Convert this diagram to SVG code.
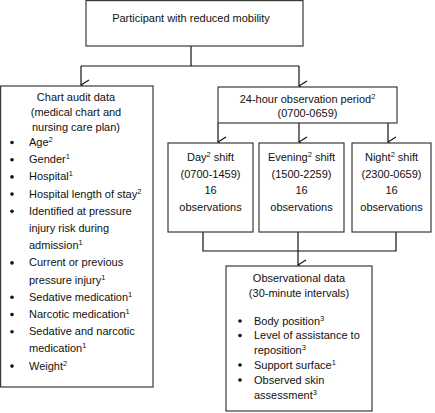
<svg xmlns="http://www.w3.org/2000/svg" width="435" height="413" viewBox="0 0 435 413">
<style>
.box{fill:#fff;stroke:#3a3a3a;stroke-width:1.2}
.t{font-family:"Liberation Sans",Arial,sans-serif;font-size:11px;fill:#111}
.c{text-anchor:middle}
.sup{font-size:7.5px}
.ln{fill:none;stroke:#111;stroke-width:1.2}
.bul{fill:#111}
</style>
<defs>
<marker id="arr" viewBox="0 0 12 10" refX="6" refY="9" markerWidth="12" markerHeight="10" markerUnits="userSpaceOnUse" orient="auto-start-reverse">
<polyline points="1,1 6,9 11,1" fill="none" stroke="#111" stroke-width="1.2"/>
</marker>
</defs>
<g id="connectors">
<path class="ln" d="M191 46V66M81 66H299"/>
<path class="ln" d="M81 66V85" marker-end="url(#arr)"/>
<path class="ln" d="M299 66V86" marker-end="url(#arr)"/>
<path class="ln" d="M218 123V142" marker-end="url(#arr)"/>
<path class="ln" d="M299 123V142" marker-end="url(#arr)"/>
<path class="ln" d="M388 123V142" marker-end="url(#arr)"/>
<path class="ln" d="M203 232V251H396V232"/>
<path class="ln" d="M298 232V265" marker-end="url(#arr)"/>
</g>
<g id="participant">
<rect class="box" x="86" y="0.6" width="217" height="45.4"/>
<text class="t c" x="191" y="22">Participant with reduced mobility</text>
</g>
<g id="chart-audit">
<rect class="box" x="0.6" y="86" width="152.4" height="301"/>
<text class="t c" x="76" y="101">Chart audit data</text>
<text class="t c" x="76" y="116">(medical chart and</text>
<text class="t c" x="76" y="131">nursing care plan)</text>
<circle class="bul" cx="12" cy="142.5" r="1.8"/>
<circle class="bul" cx="12" cy="159.7" r="1.8"/>
<circle class="bul" cx="12" cy="176.9" r="1.8"/>
<circle class="bul" cx="12" cy="194.1" r="1.8"/>
<circle class="bul" cx="12" cy="211.3" r="1.8"/>
<circle class="bul" cx="12" cy="262.9" r="1.8"/>
<circle class="bul" cx="12" cy="297.3" r="1.8"/>
<circle class="bul" cx="12" cy="314.5" r="1.8"/>
<circle class="bul" cx="12" cy="331.7" r="1.8"/>
<circle class="bul" cx="12" cy="366.1" r="1.8"/>
<text class="t" x="29" y="146">Age<tspan class="sup" dy="-4">2</tspan></text>
<text class="t" x="29" y="163.2">Gender<tspan class="sup" dy="-4">1</tspan></text>
<text class="t" x="29" y="180.4">Hospital<tspan class="sup" dy="-4">1</tspan></text>
<text class="t" x="29" y="197.6">Hospital length of stay<tspan class="sup" dy="-4">2</tspan></text>
<text class="t" x="29" y="214.8">Identified at pressure</text>
<text class="t" x="29" y="232">injury risk during</text>
<text class="t" x="29" y="249.2">admission<tspan class="sup" dy="-4">1</tspan></text>
<text class="t" x="29" y="266.4">Current or previous</text>
<text class="t" x="29" y="283.6">pressure injury<tspan class="sup" dy="-4">1</tspan></text>
<text class="t" x="29" y="300.8">Sedative medication<tspan class="sup" dy="-4">1</tspan></text>
<text class="t" x="29" y="318">Narcotic medication<tspan class="sup" dy="-4">1</tspan></text>
<text class="t" x="29" y="335.2">Sedative and narcotic</text>
<text class="t" x="29" y="352.4">medication<tspan class="sup" dy="-4">1</tspan></text>
<text class="t" x="29" y="369.6">Weight<tspan class="sup" dy="-4">2</tspan></text>
</g>
<g id="observation-period">
<rect class="box" x="218" y="87" width="179" height="36"/>
<text class="t c" x="307.5" y="103">24-hour observation period<tspan class="sup" dy="-4">2</tspan></text>
<text class="t c" x="307.5" y="117">(0700-0659)</text>
</g>
<g id="day-shift">
<rect class="box" x="168" y="143" width="85" height="89"/>
<text class="t c" x="210.5" y="161">Day<tspan class="sup" dy="-4">2</tspan><tspan dy="4"> shift</tspan></text>
<text class="t c" x="210.5" y="177.5">(0700-1459)</text>
<text class="t c" x="210.5" y="194">16</text>
<text class="t c" x="210.5" y="211">observations</text>
</g>
<g id="evening-shift">
<rect class="box" x="259" y="143" width="85" height="89"/>
<text class="t c" x="301.5" y="161">Evening<tspan class="sup" dy="-4">2</tspan><tspan dy="4"> shift</tspan></text>
<text class="t c" x="301.5" y="177.5">(1500-2259)</text>
<text class="t c" x="301.5" y="194">16</text>
<text class="t c" x="301.5" y="211">observations</text>
</g>
<g id="night-shift">
<rect class="box" x="352" y="143" width="79" height="89"/>
<text class="t c" x="391.5" y="161">Night<tspan class="sup" dy="-4">2</tspan><tspan dy="4"> shift</tspan></text>
<text class="t c" x="391.5" y="177.5">(2300-0659)</text>
<text class="t c" x="391.5" y="194">16</text>
<text class="t c" x="391.5" y="211">observations</text>
</g>
<g id="observational-data">
<rect class="box" x="226" y="266" width="146" height="145"/>
<text class="t c" x="299" y="282">Observational data</text>
<text class="t c" x="299" y="297">(30-minute intervals)</text>
<circle class="bul" cx="240" cy="321" r="1.8"/>
<circle class="bul" cx="240" cy="335.5" r="1.8"/>
<circle class="bul" cx="240" cy="365" r="1.8"/>
<circle class="bul" cx="240" cy="380" r="1.8"/>
<text class="t" x="254" y="324.7">Body position<tspan class="sup" dy="-4">3</tspan></text>
<text class="t" x="254" y="339.2">Level of assistance to</text>
<text class="t" x="254" y="353.7">reposition<tspan class="sup" dy="-4">3</tspan></text>
<text class="t" x="254" y="368.7">Support surface<tspan class="sup" dy="-4">1</tspan></text>
<text class="t" x="254" y="383.7">Observed skin</text>
<text class="t" x="254" y="398.7">assessment<tspan class="sup" dy="-4">3</tspan></text>
</g>
</svg>
